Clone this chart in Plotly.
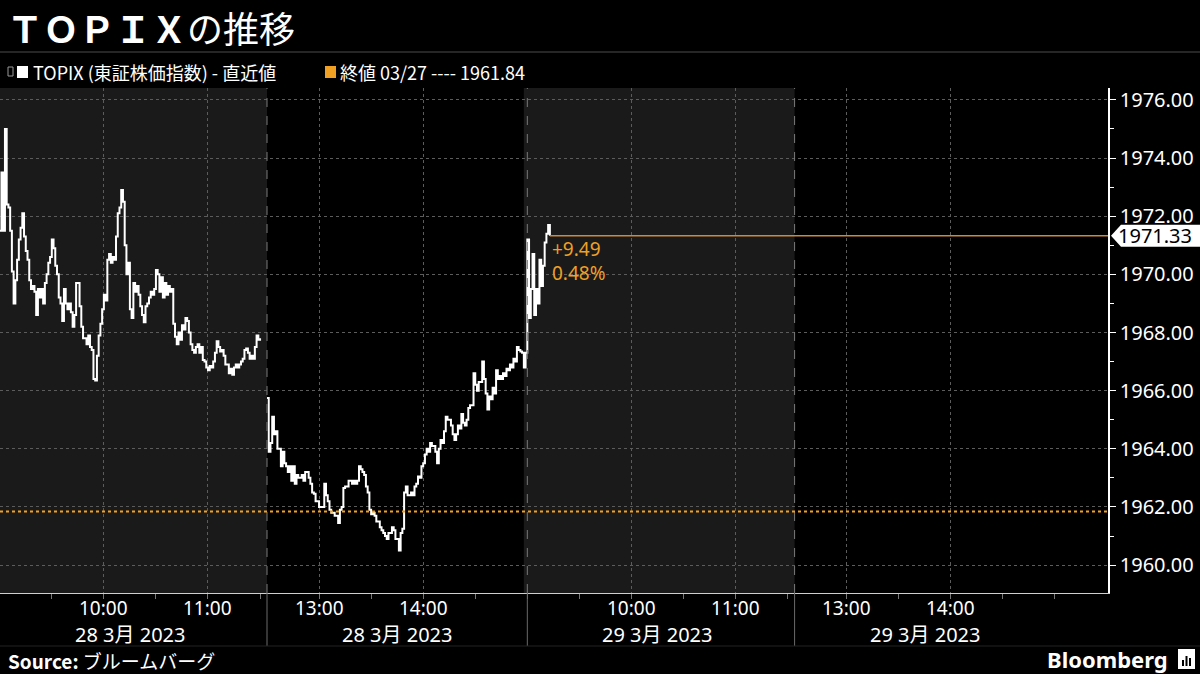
import plotly.graph_objects as go

# ---------------- data ----------------
PREV_CLOSE = 1961.84
PREV_CLOSE_DATE = "03/27"
DAY_LABELS = ["28 3月 2023", "29 3月 2023"]
HOUR_TICKS = ["10:00", "11:00", "13:00", "14:00"]
HALF_HOUR_TICKS = ["09:30", "10:30", "11:30", "13:30", "14:30", "15:00"]
Y_TICKS = [1960, 1962, 1964, 1966, 1968, 1970, 1972, 1974, 1976]
Y_MINOR = [1961, 1963, 1965, 1967, 1969, 1971, 1973, 1975]

# TOPIX, 1-minute values
topix_0328_am = [  # 09:00 - 11:30
    1971.5, 1973.5, 1971.5, 1975.0, 1972.4, 1972.3, 1971.5, 1970.1, 1969.0, 1969.8,
    1970.5, 1971.2, 1971.6, 1972.1, 1971.3, 1970.8, 1970.5, 1969.8, 1969.5, 1969.6,
    1969.4, 1968.6, 1969.5, 1969.2, 1969.5, 1969.0, 1969.7, 1970.0, 1970.4, 1970.6,
    1971.2, 1970.9, 1970.3, 1970.0, 1969.2, 1969.0, 1968.4, 1969.5, 1969.0, 1968.8,
    1969.0, 1968.7, 1968.2, 1968.6, 1969.7, 1969.7, 1968.9, 1968.2, 1967.8, 1967.8,
    1967.6, 1967.9, 1967.5, 1967.4, 1966.4, 1966.35, 1967.2, 1967.9, 1968.3, 1968.8,
    1969.3, 1969.1, 1970.5, 1970.7, 1970.4, 1970.6, 1970.5, 1971.3, 1972.1, 1972.3,
    1972.9, 1972.5, 1971.0, 1970.0, 1970.4, 1968.8, 1968.5, 1969.7, 1969.4, 1969.6,
    1969.3, 1968.9, 1968.6, 1968.35, 1968.9, 1969.0, 1969.2, 1969.4, 1969.3, 1969.5,
    1970.15, 1970.0, 1969.4, 1969.9, 1969.2, 1969.7, 1969.3, 1969.6, 1969.4, 1969.5,
    1968.3, 1967.85, 1967.6, 1968.0, 1967.75, 1968.25, 1968.1, 1968.5, 1968.4, 1968.0,
    1967.6, 1967.4, 1967.3, 1967.5, 1967.6, 1967.3, 1967.5, 1967.05, 1967.0, 1966.8,
    1966.7, 1966.85, 1966.8, 1967.0, 1967.3, 1967.7, 1967.5, 1967.35, 1967.4, 1967.2,
    1966.9, 1966.9, 1966.6, 1966.75, 1966.55, 1966.8, 1966.9, 1966.8, 1966.9, 1967.0,
    1967.1, 1967.4, 1967.45, 1967.3, 1967.1, 1967.2, 1967.1, 1967.5, 1967.9, 1967.75,
    1967.8,
]
topix_0328_pm = [  # 12:30 - 15:00
    1965.75, 1963.9, 1964.2, 1965.1, 1964.5, 1964.6, 1964.0, 1964.0, 1963.4, 1963.9,
    1963.5, 1963.4, 1963.2, 1963.4, 1962.9, 1963.4, 1962.8, 1963.1, 1963.0, 1963.0,
    1963.1, 1962.9, 1963.2, 1963.2, 1963.0, 1962.8, 1962.5, 1962.45, 1962.2, 1962.2,
    1962.0, 1962.0, 1962.0, 1962.8, 1962.4, 1962.2, 1961.9, 1961.8, 1961.8, 1961.7,
    1961.7, 1961.45, 1961.9, 1962.0, 1962.65, 1962.7, 1962.7, 1962.9, 1962.9, 1962.8,
    1962.9, 1962.8, 1962.9, 1963.4, 1963.3, 1963.2, 1963.1, 1962.7, 1962.5, 1961.9,
    1961.75, 1961.8, 1961.7, 1961.5, 1961.5, 1961.3, 1961.2, 1961.1, 1961.0, 1960.9,
    1961.1, 1961.1, 1961.3, 1961.2, 1960.9, 1960.9, 1960.5, 1961.1, 1961.25, 1962.5,
    1962.7, 1962.4, 1962.4, 1962.5, 1962.4, 1962.7, 1962.8, 1963.05, 1963.0, 1963.4,
    1963.5, 1963.8, 1964.0, 1963.9, 1964.2, 1964.1, 1964.1, 1963.9, 1963.5, 1964.0,
    1964.3, 1964.2, 1964.6, 1965.1, 1965.0, 1965.0, 1964.8, 1964.5, 1964.3, 1964.5,
    1964.8, 1964.7, 1965.2, 1964.9, 1964.8, 1965.0, 1965.4, 1965.5, 1965.5, 1966.6,
    1966.2, 1966.0, 1966.3, 1966.3, 1967.0, 1966.4, 1965.9, 1965.35, 1965.8, 1965.7,
    1966.1, 1965.9, 1966.7, 1966.4, 1966.5, 1966.4, 1966.6, 1966.5, 1966.75, 1966.7,
    1966.9, 1966.8, 1967.1, 1967.0, 1967.5, 1967.4, 1967.35, 1967.3, 1966.8, 1967.3,
    1967.6,
]
topix_0329_am = [  # 09:00 - 09:13
    1971.2, 1968.5, 1969.5, 1970.7, 1968.6, 1969.5, 1969.0, 1970.5, 1969.6, 1970.3,
    1971.1, 1971.4, 1971.7, 1971.33,
]

# ---------------- trading-time axis ----------------
def hm(s):
    h, m = s.split(":")
    return int(h) * 60 + int(m)


def axis_pos(day, minute):
    base = 1 + day * 304
    if minute <= hm("11:30"):
        return base + minute - hm("09:00")
    return base + 154 + minute - hm("12:30")


X_MIN, X_MAX = 1.15, 639.6
Y_MIN, Y_MAX = 1959.04, 1976.41
PLOT_W, PLOT_TOP, PLOT_BOTTOM = 1108, 88, 593


def px_x(px):
    return px / PLOT_W


def px_y(py):
    return (PLOT_BOTTOM - py) / (PLOT_BOTTOM - PLOT_TOP)


xs, ys = [], []
segments = [(0, "09:00", topix_0328_am, True), (0, "12:30", topix_0328_pm, False),
            (1, "09:00", topix_0329_am, False)]
for day, start, vals, brk in segments:
    t0 = hm(start)
    for i, v in enumerate(vals):
        xs.append(axis_pos(day, t0 + i))
        ys.append(v)
    if brk:
        xs.append(None)
        ys.append(None)

last_x = axis_pos(1, hm("09:00") + len(topix_0329_am) - 1)
last_v = topix_0329_am[-1]
chg = last_v - PREV_CLOSE
pct = chg / PREV_CLOSE * 100

ORANGE = "#f0a023"
GRID = "#5c5c5c"

fig = go.Figure()
fig.add_trace(go.Scatter(x=xs, y=ys, mode="lines", connectgaps=False,
                         line=dict(color="white", width=2, shape="hv"),
                         hoverinfo="skip", showlegend=False))

major_vals, major_text = [], []
for d in range(2):
    for h in HOUR_TICKS:
        major_vals.append(axis_pos(d, hm(h)))
        major_text.append(h)
minor_vals = [axis_pos(d, hm(h)) for d in range(2) for h in HALF_HOUR_TICKS]

fig.update_layout(
    width=1200, height=674,
    margin=dict(l=0, r=92, t=PLOT_TOP, b=674 - PLOT_BOTTOM),
    paper_bgcolor="black", plot_bgcolor="black", showlegend=False,
    font=dict(family="Noto Sans, Noto Sans CJK JP", color="white"),
    xaxis=dict(range=[X_MIN, X_MAX], tickmode="array", tickvals=major_vals, ticktext=major_text,
               showticklabels=False,
               showgrid=True, gridcolor=GRID, griddash="dot", gridwidth=1,
               showline=True, linecolor="#cfcfcf", linewidth=1,
               ticks="outside", ticklen=5, tickcolor="#777",
               zeroline=False, fixedrange=True,
               minor=dict(tickmode="array", tickvals=minor_vals, ticks="outside", ticklen=5,
                          tickcolor="#777", showgrid=False)),
    yaxis=dict(side="right", range=[Y_MIN, Y_MAX], tickmode="array", tickvals=Y_TICKS,
               ticktext=[f"{v:.2f}" for v in Y_TICKS],
               showgrid=True, gridcolor=GRID, griddash="dot", gridwidth=1,
               showline=True, linecolor="white", linewidth=1.5,
               ticks="outside", ticklen=6, tickcolor="white",
               tickfont=dict(size=20, color="white"), zeroline=False, fixedrange=True,
               minor=dict(tickmode="array", tickvals=Y_MINOR, ticks="outside", ticklen=4,
                          tickcolor="white", showgrid=False)),
)

shapes = []
# shaded morning sessions
for d in range(2):
    shapes.append(dict(type="rect", xref="x", yref="paper", layer="below",
                       x0=axis_pos(d, hm("09:00")) - 2, x1=axis_pos(d, hm("12:30")),
                       y0=0, y1=1, fillcolor="#1a1a1a", line=dict(width=0)))
# session boundaries
for bx in [axis_pos(0, hm("12:30")), axis_pos(1, hm("09:00")), axis_pos(1, hm("12:30"))]:
    shapes.append(dict(type="line", xref="x", yref="paper", x0=bx, x1=bx, y0=0, y1=1,
                       line=dict(color="#7a7a7a", width=1, dash="dash")))
    shapes.append(dict(type="line", xref="x", yref="paper", x0=bx, x1=bx, y0=px_y(646), y1=0,
                       line=dict(color="#6a6a6a", width=1)))
# previous close
shapes.append(dict(type="line", xref="paper", yref="y", x0=0, x1=1, y0=PREV_CLOSE, y1=PREV_CLOSE,
                   line=dict(color=ORANGE, width=2, dash="dot")))
# last price line
shapes.append(dict(type="line", xref="x", yref="y", x0=last_x, x1=X_MAX + 5, y0=last_v, y1=last_v,
                   line=dict(color="#d08a35", width=1.5)))
# last price tag
shapes.append(dict(type="path", xref="paper", yref="y", xsizemode="pixel", ysizemode="pixel",
                   xanchor=1, yanchor=last_v,
                   path="M 3 0 L 13 11 L 92 11 L 92 -11 L 13 -11 Z",
                   fillcolor="white", line=dict(width=0)))
# header separator and footer separator
shapes.append(dict(type="line", xref="paper", yref="paper", x0=0, x1=1200 / PLOT_W,
                   y0=px_y(52), y1=px_y(52), line=dict(color="#333333", width=1.5)))
shapes.append(dict(type="line", xref="paper", yref="paper", x0=0, x1=1200 / PLOT_W,
                   y0=px_y(646), y1=px_y(646), line=dict(color="#222222", width=1)))
# legend swatches
shapes.append(dict(type="rect", xref="paper", yref="paper", x0=px_x(8), x1=px_x(13),
                   y0=px_y(76), y1=px_y(67), line=dict(color="#999", width=1)))
shapes.append(dict(type="rect", xref="paper", yref="paper", x0=px_x(17), x1=px_x(28),
                   y0=px_y(78), y1=px_y(66), fillcolor="white", line=dict(width=0)))
shapes.append(dict(type="rect", xref="paper", yref="paper", x0=px_x(325), x1=px_x(336),
                   y0=px_y(78), y1=px_y(66), fillcolor=ORANGE, line=dict(width=0)))
# Bloomberg icon
shapes.append(dict(type="rect", xref="paper", yref="paper", x0=px_x(1178), x1=px_x(1195),
                   y0=px_y(669), y1=px_y(649), fillcolor="white", line=dict(width=0)))
for bx0, top in [(1182, 660), (1185.5, 656), (1189, 658)]:
    shapes.append(dict(type="rect", xref="paper", yref="paper", x0=px_x(bx0), x1=px_x(bx0 + 2),
                       y0=px_y(666), y1=px_y(top), fillcolor="black", line=dict(width=0)))
fig.update_layout(shapes=shapes)

ann = []
ann.append(dict(text="<b>ＴＯＰＩＸ</b>の推移", xref="paper", yref="paper", x=px_x(5), y=px_y(27),
                xanchor="left", yanchor="middle", showarrow=False,
                font=dict(size=36, family="Noto Sans CJK JP", color="white")))
ann.append(dict(text="TOPIX (東証株価指数) - 直近値", xref="paper", yref="paper", x=px_x(31), y=px_y(72),
                xanchor="left", yanchor="middle", showarrow=False,
                font=dict(size=18, family="Noto Sans CJK JP", color="white")))
ann.append(dict(text=f"終値 {PREV_CLOSE_DATE} ---- {PREV_CLOSE:.2f}", xref="paper", yref="paper",
                x=px_x(338), y=px_y(72), xanchor="left", yanchor="middle", showarrow=False,
                font=dict(size=18, family="Noto Sans CJK JP", color="white")))
# x-axis labels: hours and session dates
for xv, txt in zip(major_vals, major_text):
    ann.append(dict(text=txt, xref="x", yref="paper", x=xv, y=px_y(608),
                    xanchor="center", yanchor="middle", showarrow=False,
                    font=dict(size=19, family="Noto Sans", color="white")))
for d in range(2):
    for s0, s1 in [("09:00", "11:30"), ("12:30", "15:00")]:
        cx = (axis_pos(d, hm(s0)) + axis_pos(d, hm(s1))) / 2
        ann.append(dict(text=DAY_LABELS[d], xref="x", yref="paper", x=cx, y=px_y(634),
                        xanchor="center", yanchor="middle", showarrow=False,
                        font=dict(size=20, family="Noto Sans, Noto Sans CJK JP", color="white")))
ann.append(dict(text=f"{chg:+.2f}", xref="x", yref="y", x=last_x, y=last_v, xanchor="left",
                yanchor="middle", yshift=-13, showarrow=False,
                font=dict(size=19, color=ORANGE)))
ann.append(dict(text=f"{pct:.2f}%", xref="x", yref="y", x=last_x, y=last_v, xanchor="left",
                yanchor="middle", yshift=-37, showarrow=False,
                font=dict(size=19, color=ORANGE)))
ann.append(dict(text=f"{last_v:.2f}", xref="paper", yref="y", x=px_x(1116), y=last_v,
                xanchor="left", yanchor="middle", showarrow=False,
                font=dict(size=20, color="black")))
ann.append(dict(text="<b>Source:</b> ブルームバーグ", xref="paper", yref="paper", x=px_x(6), y=px_y(660),
                xanchor="left", yanchor="middle", showarrow=False,
                font=dict(size=19, family="Noto Sans CJK JP", color="white")))
ann.append(dict(text="<b>Bloomberg</b>", xref="paper", yref="paper", x=px_x(1170), y=px_y(659),
                xanchor="right", yanchor="middle", showarrow=False,
                font=dict(size=22, family="Noto Sans", color="white")))
fig.update_layout(annotations=ann)

fig.write_html("out.html", config={"displayModeBar": False},
               post_script="document.body.style.margin='0';document.body.style.background='black';")
